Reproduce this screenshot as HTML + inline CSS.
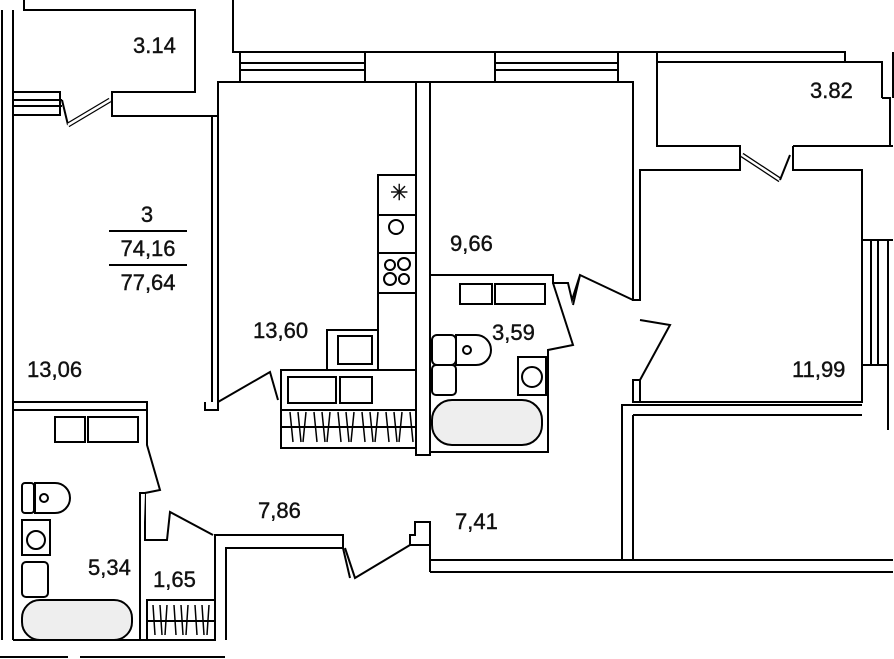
<!DOCTYPE html>
<html><head><meta charset="utf-8"><style>
html,body{margin:0;padding:0;background:#fff;}
svg{display:block}
text{font-family:"Liberation Sans",sans-serif;font-size:22px;fill:#111;stroke:#111;stroke-width:0.4;}
</style></head><body>
<svg width="894" height="659" viewBox="0 0 894 659" xmlns="http://www.w3.org/2000/svg">
<g fill="#fff" stroke="#000" stroke-width="2">
<line x1="2" y1="10" x2="2" y2="640"/>
<line x1="13" y1="10" x2="13" y2="92"/>
<line x1="13" y1="115" x2="13" y2="640"/>
<polyline points="24,0 24,10 195,10 195,92 112,92 112,116 218,116 218,82 240,82 240,52 233,52 233,0"/>
<rect x="13" y="92" width="47" height="23"/>
<line x1="13" y1="100" x2="62" y2="100"/><line x1="13" y1="106" x2="62" y2="106"/>
<line x1="62" y1="100" x2="68" y2="125"/>
<line x1="68" y1="125" x2="110" y2="100" stroke-width="5"/>
<line x1="68" y1="125" x2="110" y2="100" stroke="#fff" stroke-width="2.5"/>
<rect x="240" y="52" width="125" height="30"/>
<line x1="240" y1="63" x2="365" y2="63"/><line x1="240" y1="70" x2="365" y2="70"/>
<rect x="365" y="52" width="130" height="30"/>
<rect x="416" y="82" width="14" height="373"/>
<rect x="495" y="52" width="123" height="30"/>
<line x1="495" y1="63" x2="618" y2="63"/><line x1="495" y1="70" x2="618" y2="70"/>
<line x1="212" y1="116" x2="212" y2="402"/>
<line x1="218" y1="116" x2="218" y2="402"/>
<polyline points="618,52 618,82 633,82 633,300 640,300 640,170 740,170 740,146 657,146 657,52 618,52"/>
<polyline points="657,52 845,52 845,62 882,62 882,98"/>
<line x1="657" y1="62" x2="845" y2="62"/>
<polyline points="882,98 890,98 890,146"/>
<polyline points="893,52 893,98"/>
<line x1="742" y1="155" x2="780" y2="180" stroke-width="5"/>
<line x1="742" y1="155" x2="780" y2="180" stroke="#fff" stroke-width="2.5"/>
<line x1="780" y1="180" x2="790" y2="155"/>
<polyline points="793,146 893,146"/>
<polyline points="793,146 793,170 862,170 862,240 893,240"/>
<rect x="862" y="240" width="26" height="125"/>
<line x1="871" y1="240" x2="871" y2="365"/><line x1="878" y1="240" x2="878" y2="365"/>
<polyline points="862,365 862,402 633,402 633,380 640,380 640,402"/>
<line x1="888" y1="365" x2="888" y2="430"/>
<polyline points="640,320 670,325 640,380"/>
<polyline points="633,300 580,275 573,305"/>
<polyline points="622,560 622,405 862,405"/>
<line x1="633" y1="415" x2="862" y2="415"/>
<line x1="633" y1="415" x2="633" y2="560"/>
<polyline points="430,560 893,560"/>
<line x1="430" y1="572" x2="893" y2="572"/>
<polyline points="430,560 430,522 415,522 415,535 410,535 410,545 430,545"/>
<line x1="430" y1="560" x2="430" y2="572"/>
<polyline points="410,545 355,578 345,548"/>
<polyline points="430,275 553,275 553,283 568,283 572,300 580,275"/>
<polyline points="553,283 573,345 548,350 548,452 430,452"/>
<rect x="460" y="284" width="32" height="20"/><rect x="495" y="284" width="50" height="20"/>
<rect x="432" y="335" width="24" height="30" rx="5"/>
<path d="M456,335 h20 a15,15 0 0 1 0,30 h-20 z"/>
<circle cx="467" cy="350" r="4"/>
<rect x="432" y="365" width="24" height="30" rx="4"/>
<rect x="518" y="357" width="28" height="38"/><circle cx="532" cy="377" r="10"/>
<rect x="432" y="400" width="110" height="45" rx="20" fill="#eee"/>
<rect x="378" y="175" width="38" height="40"/>
<rect x="378" y="215" width="38" height="38"/>
<rect x="378" y="253" width="38" height="40"/>
<rect x="378" y="293" width="38" height="77"/>
<rect x="327" y="330" width="51" height="40"/>
<rect x="338" y="336" width="34" height="28"/>
<circle cx="396" cy="227" r="7"/>
<circle cx="390" cy="265" r="5"/><circle cx="404" cy="264" r="6"/><circle cx="390" cy="279" r="6"/><circle cx="404" cy="279" r="5"/>
<rect x="281" y="370" width="135" height="40"/>
<rect x="288" y="377" width="48" height="26"/><rect x="340" y="377" width="32" height="26"/>
<rect x="281" y="410" width="135" height="38"/>
<line x1="281" y1="427" x2="416" y2="427"/>
<polyline points="218,402 218,410 205,410 205,402"/>
<polyline points="218,402 270,372 278,400"/>
<rect x="13" y="402" width="134" height="8"/>
<polyline points="147,410 147,445 160,490 145,493 145,540 167,540 170,512 213,535"/>
<rect x="55" y="417" width="30" height="25"/><rect x="88" y="417" width="50" height="25"/>
<rect x="22" y="483" width="12" height="30" rx="3"/>
<path d="M35,483 h20 a15,15 0 0 1 0,30 h-20 z"/>
<circle cx="44" cy="498" r="4"/>
<rect x="22" y="520" width="28" height="35"/><circle cx="36" cy="540" r="9"/>
<rect x="22" y="562" width="26" height="35" rx="4"/>
<rect x="22" y="600" width="110" height="40" rx="18" fill="#eee"/>
<rect x="147" y="600" width="68" height="40"/>
<line x1="147" y1="621" x2="215" y2="621"/>
<line x1="13" y1="640" x2="215" y2="640"/>
<polyline points="145,493 140,493 140,640"/>
<polyline points="215,640 215,535 343,535 343,548 226,548 226,640"/>
<polyline points="343,548 350,578"/>
<line x1="0" y1="657" x2="68" y2="657"/><line x1="80" y1="657" x2="225" y2="657"/>
<line x1="109" y1="231" x2="187" y2="231"/><line x1="109" y1="265" x2="187" y2="265"/>
</g>
<g stroke="#000" stroke-width="1.5">
<path d="M290,412 l3,30 M298,412 l3,30 M306,412 l-3,30 M314,412 l3,30 M322,412 l3,30 M330,412 l-3,30 M338,412 l3,30 M346,412 l3,30 M354,412 l-3,30 M362,412 l3,30 M370,412 l3,30 M378,412 l-3,30 M386,412 l3,30 M394,412 l3,30 M402,412 l-3,30 M410,412 l3,30"/>
<path d="M153,605 l2,30 M160,605 l2,30 M167,605 l-2,30 M174,605 l2,30 M181,605 l2,30 M188,605 l-2,30 M195,605 l2,30 M202,605 l2,30 M209,605 l-2,30"/>
</g>
<text x="133" y="53">3.14</text>
<text x="147" y="222" text-anchor="middle">3</text>
<text x="148" y="256" text-anchor="middle">74,16</text>
<text x="148" y="290" text-anchor="middle">77,64</text>
<text x="27" y="377">13,06</text>
<text x="253" y="338">13,60</text>
<text x="450" y="251">9,66</text>
<text x="492" y="340">3,59</text>
<text x="810" y="98">3.82</text>
<text x="792" y="377">11,99</text>
<text x="258" y="518">7,86</text>
<text x="455" y="529">7,41</text>
<text x="88" y="575">5,34</text>
<text x="153" y="587">1,65</text>
<text x="390" y="200" font-size="14" stroke-width="0">✳</text>
</svg>
</body></html>
